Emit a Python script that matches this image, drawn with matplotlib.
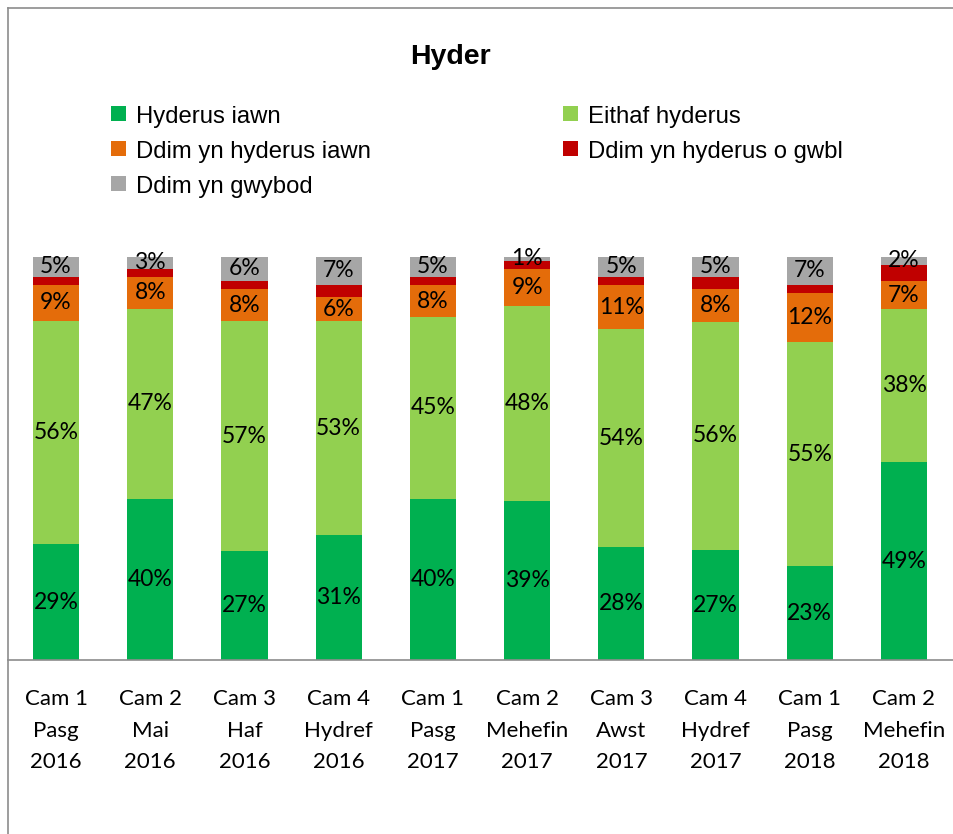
import numpy as np
import matplotlib
matplotlib.use('Agg')
import matplotlib.pyplot as plt
from matplotlib.patches import Rectangle
from matplotlib.lines import Line2D

categories = ['Cam 1\nPasg\n2016', 'Cam 2\nMai\n2016', 'Cam 3\nHaf\n2016',
              'Cam 4\nHydref\n2016', 'Cam 1\nPasg\n2017', 'Cam 2\nMehefin\n2017',
              'Cam 3\nAwst\n2017', 'Cam 4\nHydref\n2017', 'Cam 1\nPasg\n2018',
              'Cam 2\nMehefin\n2018']

hyderus_iawn = [29, 40, 27, 31, 40, 39, 28, 27, 23, 49]
eithaf_hyderus = [56, 47, 57, 53, 45, 48, 54, 56, 55, 38]
ddim_iawn = [9, 8, 8, 6, 8, 9, 11, 8, 12, 7]
ddim_gwbl = [2, 2, 2, 3, 2, 2, 2, 3, 2, 4]
ddim_gwybod = [5, 3, 6, 7, 5, 1, 5, 5, 7, 2]

series = [
    ('Hyderus iawn', hyderus_iawn, '#00b050', True),
    ('Eithaf hyderus', eithaf_hyderus, '#92d050', True),
    ('Ddim yn hyderus iawn', ddim_iawn, '#e46c0a', True),
    ('Ddim yn hyderus o gwbl', ddim_gwbl, '#c00000', False),
    ('Ddim yn gwybod', ddim_gwybod, '#a6a6a6', True),
]

legend_font = ['Liberation Sans', 'DejaVu Sans']
label_font = ['Lato', 'DejaVu Sans']

W, H = 954, 834
fig = plt.figure(figsize=(W / 100, H / 100), dpi=100)

# chart border (cropped: only left and top edges visible)
fig.add_artist(Line2D([8 / W, 8 / W], [0, 1 - 8 / H], color='#8c8c8c', lw=1.2))
fig.add_artist(Line2D([8 / W, 1], [1 - 8 / H, 1 - 8 / H], color='#8c8c8c', lw=1.2))

ax = fig.add_axes([8.9 / W, (H - 660) / H, 942.2 / W, 403.3 / H])

x = np.arange(len(categories))
vals = np.array([s[1] for s in series], dtype=float)
pct = vals / vals.sum(axis=0)  # 100% stacked

bottom = np.zeros(len(categories))
for (name, raw, color, show), p in zip(series, pct):
    ax.bar(x, p, 0.49, bottom=bottom, color=color, label=name)
    if show:
        for xi, b, h, r in zip(x, bottom, p, raw):
            ax.text(xi, b + h / 2, f'{r}%', ha='center', va='center',
                    fontsize=16.5, family=label_font, color='black')
    bottom += p

ax.set_xlim(-0.5, len(categories) - 0.5)
ax.set_ylim(0, 1)
ax.set_yticks([])
for s in ['top', 'right', 'left', 'bottom']:
    ax.spines[s].set_visible(False)
ax.set_xticks(x)
ax.set_xticklabels(categories, fontsize=16, family=label_font, linespacing=1.72)
ax.tick_params(axis='x', length=0, pad=21)

# category axis line
fig.add_artist(Line2D([8 / W, 1], [(H - 660) / H] * 2, color='#8c8c8c', lw=1.2))

fig.text(450 / W, 1 - 64.3 / H, 'Hyder', ha='center', va='baseline',
         fontsize=20.5, fontweight='bold', family=legend_font)

# legend, laid out row by row like the Excel one
legend_pos = [(111, 113), (563, 113), (111, 148.5), (563, 148.5), (111, 183)]
for (name, raw, color, show), (lx, ly) in zip(series, legend_pos):
    fig.add_artist(Rectangle((lx / W, 1 - (ly + 7.5) / H), 15 / W, 15 / H,
                             transform=fig.transFigure, facecolor=color,
                             edgecolor='none'))
    fig.text((lx + 25.5) / W, 1 - (ly + 9.5) / H, name, ha='left', va='baseline',
             fontsize=17.2, family=legend_font)

fig.savefig('out.png', dpi=100, facecolor='white')
